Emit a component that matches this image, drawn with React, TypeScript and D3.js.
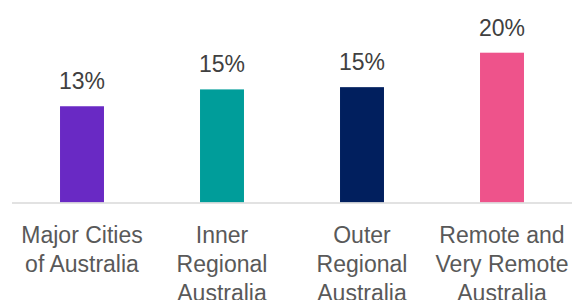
import React, { useEffect, useRef } from "react";
import { select, scaleBand, scaleLinear } from "d3";

const categories = ["Major Cities of Australia", "Inner Regional Australia", "Outer Regional Australia", "Remote and Very Remote Australia"];
const categoryLines = [
  ["Major Cities", "of Australia"],
  ["Inner", "Regional", "Australia"],
  ["Outer", "Regional", "Australia"],
  ["Remote and", "Very Remote", "Australia"],
];
const values = [12.85, 15.1, 15.4, 20.0];
const colors = ["#6929c4", "#009d9a", "#011f5e", "#ee538b"];

function chart(node: SVGSVGElement) {
  const width = 572;
  const height = 300;
  const axisLeft = 12;
  const baseline = 202.5;
  const font = "'Liberation Sans', Arial, sans-serif";

  const svg = select(node);
  svg.selectAll("*").remove();

  const x = scaleBand<string>()
    .domain(categories)
    .range([axisLeft, width])
    .paddingInner(0.686)
    .paddingOuter(0.343);

  const y = scaleLinear().domain([0, 20]).range([baseline, 52.7]);

  const data = categories.map((c, i) => ({ c, v: values[i], color: colors[i], lines: categoryLines[i] }));

  // bars
  svg.append("g")
    .selectAll("rect")
    .data(data)
    .join("rect")
    .attr("x", (d) => x(d.c)!)
    .attr("y", (d) => y(d.v))
    .attr("width", x.bandwidth())
    .attr("height", (d) => y(0) - y(d.v))
    .attr("fill", (d) => d.color);

  // baseline
  svg.append("line")
    .attr("x1", axisLeft)
    .attr("x2", width)
    .attr("y1", baseline + 0.5)
    .attr("y2", baseline + 0.5)
    .attr("stroke", "#d9d9d9")
    .attr("stroke-width", 1.5);

  // value labels
  svg.append("g")
    .selectAll("text")
    .data(data)
    .join("text")
    .attr("x", (d) => x(d.c)! + x.bandwidth() / 2)
    .attr("y", (d) => y(d.v) - 17)
    .attr("text-anchor", "middle")
    .attr("font-family", font)
    .attr("font-size", 23)
    .attr("fill", "#404040")
    .text((d) => `${d.v.toFixed(0)}%`);

  // category labels
  const cat = svg.append("g")
    .selectAll("text")
    .data(data)
    .join("text")
    .attr("text-anchor", "middle")
    .attr("font-family", font)
    .attr("font-size", 23)
    .attr("fill", "#595959");
  cat.selectAll("tspan")
    .data((d) => d.lines.map((l) => ({ l, cx: x(d.c)! + x.bandwidth() / 2 })))
    .join("tspan")
    .attr("x", (d) => d.cx)
    .attr("y", (d, i) => 243 + i * 29)
    .text((d) => d.l);

  return height;
}

export default function App() {
  const ref = useRef<SVGSVGElement>(null);
  useEffect(() => {
    if (ref.current) chart(ref.current);
  }, []);
  return (
    <svg
      ref={ref}
      width={572}
      height={300}
      style={{ position: "absolute", left: 0, top: 0, display: "block", background: "#fff" }}
    />
  );
}
